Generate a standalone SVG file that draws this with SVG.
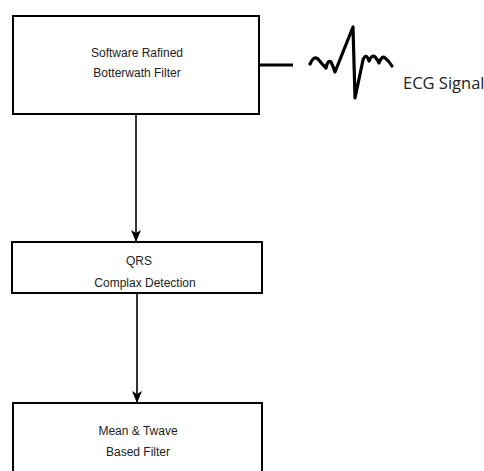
<svg xmlns="http://www.w3.org/2000/svg" width="484" height="471" viewBox="0 0 484 471">
<style>
.box{fill:#fff;stroke:#000;stroke-width:2}
.t{font-family:"Liberation Sans",Arial,sans-serif;font-size:12px;fill:#222;text-anchor:middle}
.c{stroke:#000;stroke-width:1.6;fill:none}
</style>
<defs>
<marker id="ah" markerWidth="12" markerHeight="10" refX="12" refY="5" orient="auto" markerUnits="userSpaceOnUse" viewBox="0 0 12 10">
<path d="M0,0 L12,5 L0,10 L3,5 Z" fill="#000"/>
</marker>
</defs>
<rect width="484" height="471" fill="#fff"/>
<g id="connectors">
<line class="c" x1="136" y1="114" x2="136" y2="242" marker-end="url(#ah)"/>
<line class="c" x1="137" y1="293" x2="137" y2="403" marker-end="url(#ah)"/>
<line x1="259" y1="65" x2="293" y2="65" stroke="#000" stroke-width="3"/>
</g>
<g id="node1">
<rect class="box" x="13" y="16" width="246" height="98"/>
<text class="t" x="137" y="57">Software Rafined</text>
<text class="t" x="137" y="77">Botterwath Filter</text>
</g>
<g id="ecg">
<path d="M310,64 Q314,55 318,59 Q322,64 326,68 Q328,59 331,62 Q333,66 335,72 L353,27 L355,98 L363,60 Q366,52 369,61 Q372,54 375,57 Q378,60 379,63 Q382,55 385,58 Q389,61 392,66" fill="none" stroke="#000" stroke-width="3.2" stroke-linejoin="round" stroke-linecap="round"/>
<text x="403" y="89" font-family="'Open Sans',sans-serif" font-size="16.5" fill="#222">ECG Signal</text>
</g>
<g id="node2">
<rect class="box" x="12" y="242" width="250" height="51"/>
<text class="t" x="139" y="265">QRS</text>
<text class="t" x="145" y="287">Complax Detection</text>
</g>
<g id="node3">
<rect class="box" x="13" y="403" width="249" height="80"/>
<text class="t" x="138" y="435">Mean &amp; Twave</text>
<text class="t" x="138" y="456">Based Filter</text>
</g>
</svg>
